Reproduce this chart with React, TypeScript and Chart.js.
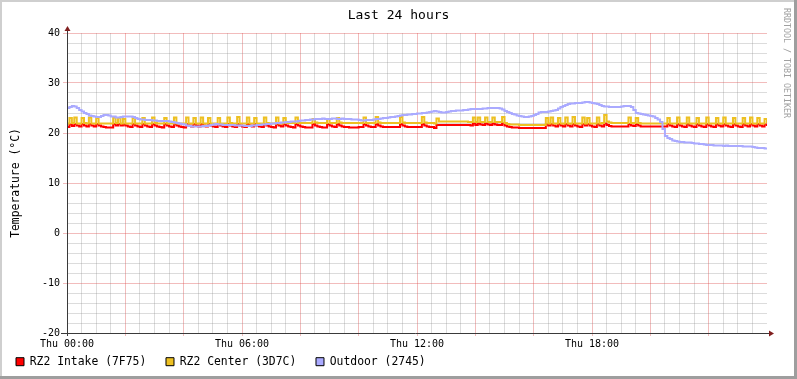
import { useEffect, useRef } from 'react';
import { Chart, registerables } from 'chart.js';

Chart.register(...registerables);

// ---- data (5-minute steps, Thu 00:00 .. Fri 00:00) ----
const chartTitle = 'Last 24 hours';
const yAxisTitle = 'Temperature (°C)';
const watermark = 'RRDTOOL / TOBI OETIKER';
const seriesLabels = ['RZ2 Intake (7F75)', 'RZ2 Center (3D7C)', 'Outdoor (2745)'];
const seriesColors = ['#FF0000', '#EDC022', '#AAAAFF'];
const xTickLabels = ['Thu 00:00', 'Thu 06:00', 'Thu 12:00', 'Thu 18:00'];
const stepMinutes = 5;

const intake = [
  21.2, 21.7, 21.4, 21.8, 21.5, 21.3, 21.8, 21.5, 21.3, 21.8, 21.5, 21.3,
  21.8, 21.5, 21.3, 21.2, 21.1, 21.1, 21.1, 21.8, 21.5, 21.8, 21.5, 21.7,
  21.5, 21.3, 21.2, 21.8, 21.5, 21.3, 21.2, 21.8, 21.5, 21.3, 21.2, 21.8,
  21.5, 21.3, 21.2, 21.1, 21.8, 21.5, 21.3, 21.2, 21.8, 21.5, 21.3, 21.2,
  21.1, 21.8, 21.5, 21.3, 21.8, 21.5, 21.3, 21.8, 21.5, 21.3, 21.8, 21.5,
  21.3, 21.2, 21.8, 21.5, 21.3, 21.2, 21.8, 21.5, 21.3, 21.2, 21.8, 21.5,
  21.3, 21.2, 21.8, 21.5, 21.3, 21.8, 21.5, 21.3, 21.2, 21.8, 21.5, 21.3,
  21.2, 21.1, 21.8, 21.5, 21.3, 21.8, 21.5, 21.3, 21.2, 21.1, 21.8, 21.5,
  21.3, 21.2, 21.1, 21.1, 21.1, 21.8, 21.5, 21.3, 21.2, 21.1, 21.1, 21.8,
  21.5, 21.3, 21.2, 21.8, 21.5, 21.3, 21.2, 21.2, 21.1, 21.1, 21.1, 21.1,
  21.2, 21.2, 21.8, 21.5, 21.3, 21.2, 21.2, 21.8, 21.5, 21.3, 21.2, 21.2,
  21.2, 21.2, 21.2, 21.2, 21.2, 21.8, 21.5, 21.3, 21.2, 21.2, 21.2, 21.2,
  21.2, 21.2, 21.8, 21.5, 21.3, 21.2, 21.2, 21.0, 21.6, 21.6, 21.6, 21.6,
  21.6, 21.6, 21.6, 21.6, 21.6, 21.6, 21.6, 21.6, 21.6, 21.6, 21.5, 21.9,
  21.6, 21.9, 21.7, 21.6, 21.9, 21.7, 21.6, 21.9, 21.7, 21.6, 21.6, 21.9,
  21.5, 21.3, 21.2, 21.1, 21.1, 21.1, 21.0, 21.0, 21.0, 21.0, 21.0, 21.0,
  21.0, 21.0, 21.0, 21.0, 21.0, 21.7, 21.5, 21.8, 21.5, 21.3, 21.8, 21.5,
  21.3, 21.8, 21.5, 21.3, 21.8, 21.5, 21.3, 21.2, 21.8, 21.5, 21.8, 21.5,
  21.3, 21.2, 21.8, 21.5, 21.3, 21.9, 21.6, 21.4, 21.3, 21.3, 21.3, 21.3,
  21.3, 21.3, 21.3, 21.8, 21.5, 21.4, 21.8, 21.5, 21.3, 21.3, 21.3, 21.3,
  21.3, 21.3, 21.3, 21.3, 21.3, 21.3, 21.3, 21.8, 21.5, 21.3, 21.2, 21.8,
  21.5, 21.3, 21.2, 21.8, 21.5, 21.3, 21.2, 21.8, 21.5, 21.3, 21.2, 21.8,
  21.5, 21.3, 21.2, 21.8, 21.5, 21.3, 21.8, 21.5, 21.3, 21.2, 21.8, 21.5,
  21.3, 21.2, 21.8, 21.5, 21.3, 21.8, 21.5, 21.3, 21.8, 21.5, 21.3, 21.7,
  21.4,
];

const center = [
  21.9, 23.0, 22.0, 23.1, 21.9, 21.9, 23.0, 22.0, 21.9, 23.1, 21.9, 21.9,
  23.0, 21.9, 21.9, 21.9, 21.9, 21.9, 21.9, 23.1, 22.0, 23.0, 21.9, 22.8,
  21.9, 21.9, 21.9, 23.0, 21.9, 21.9, 21.9, 23.0, 21.9, 21.9, 21.9, 23.1,
  22.0, 21.9, 21.9, 21.9, 23.0, 21.9, 21.9, 21.9, 23.1, 21.9, 21.9, 21.9,
  21.9, 23.1, 21.9, 21.9, 23.0, 21.9, 21.9, 23.1, 21.9, 21.9, 23.0, 21.9,
  21.9, 21.9, 23.0, 21.9, 21.9, 21.9, 23.1, 22.0, 21.9, 21.9, 23.2, 21.9,
  21.9, 21.9, 23.1, 21.9, 21.9, 23.0, 21.9, 21.9, 21.9, 23.1, 22.0, 21.9,
  21.9, 21.9, 23.1, 21.9, 21.9, 23.0, 22.0, 22.0, 22.0, 22.0, 23.1, 22.0,
  22.0, 22.0, 22.0, 22.0, 22.0, 22.8, 22.1, 22.0, 22.0, 22.0, 22.0, 22.8,
  22.0, 22.0, 22.0, 23.0, 22.1, 22.0, 22.0, 22.0, 22.0, 22.0, 22.0, 22.0,
  22.0, 22.0, 23.1, 22.0, 22.0, 22.0, 22.0, 23.2, 22.1, 22.0, 22.0, 22.0,
  22.0, 22.0, 22.0, 22.0, 22.0, 23.2, 22.1, 22.0, 22.0, 22.0, 22.0, 22.0,
  22.0, 22.0, 23.2, 22.1, 22.0, 22.0, 22.0, 21.9, 22.9, 22.3, 22.3, 22.3,
  22.3, 22.3, 22.3, 22.3, 22.3, 22.3, 22.3, 22.3, 22.3, 22.2, 22.2, 23.1,
  22.2, 23.1, 22.2, 22.2, 23.1, 22.2, 22.2, 23.1, 22.2, 22.2, 22.2, 23.2,
  22.0, 21.8, 21.7, 21.7, 21.7, 21.7, 21.6, 21.6, 21.6, 21.6, 21.6, 21.6,
  21.6, 21.6, 21.6, 21.6, 21.6, 23.0, 21.9, 23.1, 21.9, 21.9, 23.0, 21.9,
  21.9, 23.1, 21.9, 21.9, 23.2, 21.9, 21.9, 21.9, 23.1, 21.9, 23.0, 21.9,
  21.9, 21.9, 23.1, 21.9, 22.0, 23.6, 22.3, 22.1, 22.0, 22.0, 22.0, 22.0,
  22.0, 22.0, 22.0, 23.1, 22.0, 22.0, 23.0, 22.0, 21.9, 21.9, 21.9, 21.9,
  21.9, 21.9, 21.9, 21.9, 21.9, 21.9, 21.9, 23.0, 21.9, 21.9, 21.9, 23.1,
  21.9, 21.9, 21.9, 23.1, 21.9, 21.9, 21.9, 23.0, 21.9, 21.9, 21.9, 23.1,
  21.9, 21.9, 21.9, 23.0, 21.9, 21.9, 23.1, 21.9, 21.9, 21.9, 23.0, 21.9,
  21.9, 21.9, 23.0, 21.9, 21.9, 23.1, 21.9, 21.9, 23.0, 21.9, 21.9, 22.8,
  22.0,
];

const outdoor = [
  25.0, 25.2, 25.4, 25.3, 25.0, 24.6, 24.3, 24.0, 23.8, 23.5, 23.4, 23.3,
  23.2, 23.2, 23.4, 23.6, 23.6, 23.5, 23.3, 23.3, 23.1, 23.1, 23.2, 23.3,
  23.3, 23.3, 23.3, 23.2, 23.0, 22.8, 22.7, 22.7, 22.6, 22.6, 22.6, 22.5,
  22.5, 22.4, 22.4, 22.4, 22.4, 22.4, 22.3, 22.2, 22.1, 22.0, 21.9, 21.8,
  21.7, 21.5, 21.4, 21.3, 21.3, 21.3, 21.3, 21.3, 21.4, 21.4, 21.5, 21.6,
  21.7, 21.8, 21.7, 21.7, 21.6, 21.6, 21.6, 21.6, 21.6, 21.5, 21.5, 21.5,
  21.5, 21.4, 21.4, 21.4, 21.5, 21.5, 21.6, 21.6, 21.7, 21.7, 21.8, 21.8,
  21.9, 21.9, 22.0, 22.0, 22.1, 22.1, 22.2, 22.2, 22.3, 22.3, 22.3, 22.4,
  22.5, 22.5, 22.6, 22.6, 22.7, 22.7, 22.8, 22.8, 22.8, 22.9, 22.8, 22.8,
  22.8, 22.9, 22.9, 22.8, 22.8, 22.9, 22.8, 22.8, 22.8, 22.7, 22.7, 22.7,
  22.6, 22.5, 22.5, 22.6, 22.6, 22.6, 22.7, 22.8, 22.8, 22.9, 23.0, 23.0,
  23.1, 23.2, 23.2, 23.3, 23.4, 23.5, 23.6, 23.6, 23.7, 23.7, 23.8, 23.8,
  23.9, 23.9, 24.0, 24.0, 24.1, 24.2, 24.3, 24.4, 24.3, 24.2, 24.1, 24.1,
  24.2, 24.3, 24.4, 24.4, 24.5, 24.5, 24.5, 24.6, 24.6, 24.7, 24.8, 24.8,
  24.8, 24.8, 24.8, 24.9, 24.9, 25.0, 25.0, 25.0, 25.0, 25.0, 24.9, 24.7,
  24.4, 24.2, 24.0, 23.8, 23.7, 23.5, 23.4, 23.3, 23.2, 23.2, 23.3, 23.4,
  23.6, 23.8, 24.1, 24.2, 24.2, 24.2, 24.3, 24.4, 24.5, 24.6, 24.9, 25.2,
  25.4, 25.6, 25.8, 25.9, 25.9, 26.0, 26.0, 26.0, 26.1, 26.2, 26.2, 26.1,
  26.0, 25.9, 25.8, 25.6, 25.4, 25.3, 25.3, 25.2, 25.2, 25.2, 25.2, 25.2,
  25.3, 25.4, 25.4, 25.4, 25.2, 24.6, 24.0, 23.9, 23.8, 23.7, 23.6, 23.5,
  23.4, 23.3, 23.0, 22.7, 22.2, 20.8, 19.4, 19.0, 18.8, 18.5, 18.4, 18.3,
  18.2, 18.2, 18.1, 18.1, 18.1, 18.0, 17.9, 17.9, 17.8, 17.8, 17.7, 17.6,
  17.6, 17.6, 17.5, 17.5, 17.5, 17.5, 17.4, 17.5, 17.4, 17.4, 17.4, 17.4,
  17.4, 17.4, 17.3, 17.3, 17.3, 17.3, 17.2, 17.1, 17.0, 17.0, 17.0, 16.9,
  16.9,
];

const minutes = intake.map((_, i) => i * stepMinutes);

// ---- styling ----
const MONO = "'DejaVu Sans Mono', monospace";
const MAJOR = 'rgba(222,79,79,0.38)';
const MINOR = 'rgba(140,140,140,0.3)';
const NONE = 'rgba(0,0,0,0)';
const AXIS = '#3a3a3a';
const ARROW = '#801F1F';

const rrdDecor = {
  id: 'rrdDecor',
  beforeDraw(chart: any) {
    const { ctx, width, height } = chart;
    ctx.save();
    ctx.fillStyle = '#FFFFFF';
    ctx.fillRect(0, 0, width, height);
    ctx.fillStyle = '#CFCFCF';
    ctx.fillRect(0, 0, width, 2);
    ctx.fillRect(0, 0, 2, height);
    ctx.fillStyle = '#9E9E9E';
    ctx.fillRect(width - 3, 0, 3, height);
    ctx.fillRect(0, height - 3, width, 3);
    ctx.restore();
  },
  afterDraw(chart: any) {
    const { ctx, chartArea: a } = chart;
    ctx.save();
    ctx.strokeStyle = AXIS;
    ctx.lineWidth = 1;
    ctx.beginPath();
    ctx.moveTo(a.left - 6, a.bottom + 0.5);
    ctx.lineTo(a.right + 3, a.bottom + 0.5);
    ctx.moveTo(a.left + 0.5, a.bottom + 3);
    ctx.lineTo(a.left + 0.5, a.top - 2);
    ctx.stroke();
    ctx.fillStyle = ARROW;
    ctx.beginPath();
    ctx.moveTo(a.left + 0.5, a.top - 7);
    ctx.lineTo(a.left - 2.5, a.top - 2);
    ctx.lineTo(a.left + 3.5, a.top - 2);
    ctx.closePath();
    ctx.fill();
    ctx.beginPath();
    ctx.moveTo(a.right + 7, a.bottom + 0.5);
    ctx.lineTo(a.right + 2, a.bottom - 2.5);
    ctx.lineTo(a.right + 2, a.bottom + 3.5);
    ctx.closePath();
    ctx.fill();
    ctx.fillStyle = '#A0A0A0';
    ctx.font = `8.3px ${MONO}`;
    ctx.textAlign = 'left';
    ctx.textBaseline = 'middle';
    ctx.translate(chart.width - 10.5, 8);
    ctx.rotate(Math.PI / 2);
    ctx.fillText(watermark, 0, 0);
    ctx.restore();
  },
};

const seriesValues = [intake, center, outdoor];
const drawOrder = [3, 2, 1];

export default function App() {
  const ref = useRef<HTMLCanvasElement>(null);

  useEffect(() => {
    document.body.style.margin = '0';
    if (!ref.current) return;
    const chart = new Chart(ref.current, {
      type: 'line',
      data: {
        datasets: seriesValues.map((vals, k) => ({
          label: seriesLabels[k],
          data: vals.map((v, i) => ({ x: minutes[i], y: v })),
          borderColor: seriesColors[k],
          backgroundColor: seriesColors[k],
          borderWidth: 2,
          pointRadius: 0,
          stepped: 'before',
          fill: false,
          order: drawOrder[k],
          xAxisID: 'x',
          yAxisID: 'y',
        })),
      },
      options: {
        animation: false,
        responsive: false,
        events: [],
        layout: { padding: { top: 0, left: 10, right: 10, bottom: 1.6 } },
        scales: {
          x: {
            type: 'linear',
            min: 0,
            max: 1440,
            afterFit: (s: any) => { s.height = 17; },
            ticks: {
              stepSize: 30,
              autoSkip: false,
              maxRotation: 0,
              minRotation: 0,
              padding: 2,
              color: '#000',
              font: { family: MONO, size: 10 },
              callback: (v: any) => (v % 360 === 0 && v < 1440 ? xTickLabels[v / 360] : ''),
            },
            grid: {
              color: (c: any) => (c.tick.value >= 1440 ? NONE : c.tick.value % 120 === 0 ? MAJOR : MINOR),
              tickColor: (c: any) => (c.tick.value % 120 === 0 && c.tick.value < 1440 ? MAJOR : NONE),
              tickLength: 3,
              lineWidth: 1,
            },
            border: { display: false },
          },
          y: {
            type: 'linear',
            position: 'left',
            min: -20,
            max: 40,
            afterFit: (s: any) => { s.width = 57; },
            ticks: {
              stepSize: 2,
              autoSkip: false,
              padding: 3,
              color: '#000',
              font: { family: MONO, size: 10 },
              callback: (v: any) => (v % 10 === 0 ? String(v) : ''),
            },
            grid: {
              color: (c: any) => (c.tick.value % 10 === 0 ? MAJOR : MINOR),
              tickColor: (c: any) => (c.tick.value % 10 === 0 ? MAJOR : NONE),
              tickLength: 4,
              lineWidth: 1,
            },
            border: { display: false },
            title: {
              display: true,
              text: yAxisTitle,
              color: '#000',
              font: { family: MONO, size: 11.4 },
              padding: { top: -1, bottom: 0 },
            },
          },
          yR: {
            type: 'linear',
            position: 'right',
            display: true,
            afterFit: (s: any) => { s.width = 20; },
            ticks: { display: false },
            grid: { display: false, drawTicks: false },
            border: { display: false },
          },
        },
        plugins: {
          title: {
            display: true,
            text: chartTitle,
            color: '#000',
            font: { family: MONO, size: 13, weight: 'normal' },
            padding: { top: 8, bottom: 9.4 },
          },
          legend: {
            display: true,
            position: 'bottom',
            align: 'start',
            labels: {
              boxWidth: 8,
              boxHeight: 8,
              padding: 6,
              color: '#000',
              font: { family: MONO, size: 11.4 },
              generateLabels: (ch: any) =>
                ch.data.datasets.map((ds: any, i: number) => ({
                  text: ds.label + '  ',
                  fillStyle: ds.borderColor,
                  strokeStyle: '#000',
                  lineWidth: 1,
                  hidden: false,
                  datasetIndex: i,
                  fontColor: '#000',
                })),
            },
          },
          tooltip: { enabled: false },
        },
      },
      plugins: [rrdDecor],
    } as any);
    return () => chart.destroy();
  }, []);

  return (
    <canvas
      ref={ref}
      width={797}
      height={379}
      style={{ display: 'block', width: 797, height: 379 }}
    />
  );
}
